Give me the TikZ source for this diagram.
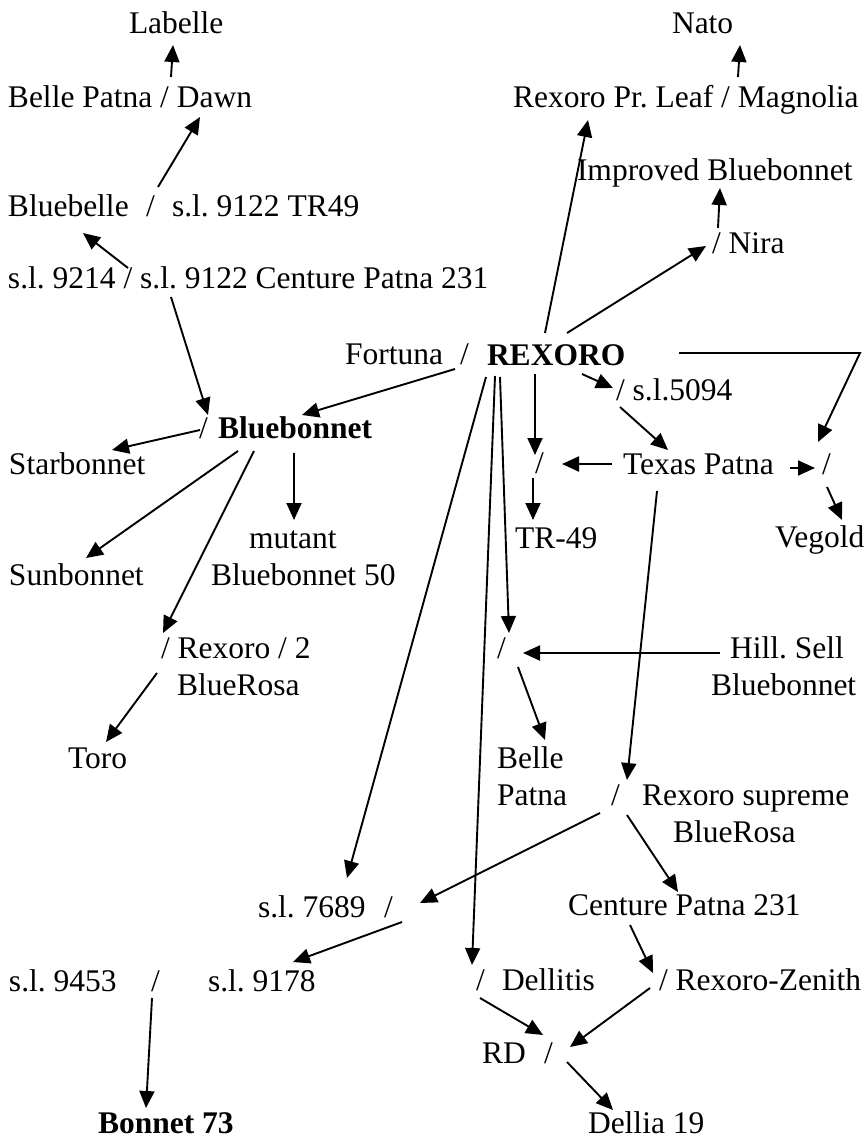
\documentclass[tikz,border=0pt]{standalone}
\usepackage{fontspec}
\setmainfont{Liberation Serif}
\usetikzlibrary{arrows.meta}
\begin{document}
\frenchspacing
\begin{tikzpicture}[x=1pt,y=-1pt,
  lbl/.style={anchor=base west,inner sep=0pt,outer sep=0pt,font=\fontsize{31.5}{38}\selectfont\frenchspacing},
  blbl/.style={lbl,font=\fontsize{31.5}{38}\selectfont\bfseries},
  conn/.style={line width=1.9pt,-{Triangle[length=17pt,width=15pt]}}]
\useasboundingbox (0,0) rectangle (867,1140);
% ---- texts ----
\node[lbl] (labelle) at (129,34) {Labelle};
\node[lbl] (nato) at (672,34) {Nato};
\node[lbl] (bpdawn) at (8,107) {Belle Patna / Dawn};
\node[lbl] (rexleaf) at (513,107) {Rexoro Pr. Leaf / Magnolia};
\node[lbl] (improved) at (577,180) {Improved Bluebonnet};
\node[lbl] (bluebelle) at (8,216) {Bluebelle};
\node[lbl] (bbslash) at (146,216) {/};
\node[lbl] (tr49a) at (172,216) {s.l. 9122 TR49};
\node[lbl] (nira) at (712,253) {/ Nira};
\node[lbl] (sl9214) at (8,288) {s.l. 9214 / s.l. 9122 Centure Patna 231};
\node[lbl] (fortuna) at (345,364) {Fortuna};
\node[lbl] (rxslash) at (460,364) {/};
\node[blbl] (rexoro) at (487,365) {REXORO};
\node[lbl] (sl5094) at (616,400) {/ s.l.5094};
\node[lbl] (bnslash) at (199,438) {/};
\node[blbl] (bluebonnet) at (218,438) {Bluebonnet};
\node[lbl] (starbonnet) at (9,474) {Starbonnet};
\node[lbl] (trslash) at (535,473) {/};
\node[lbl] (texas) at (623,474) {Texas Patna};
\node[lbl] (vgslash) at (822,474) {/};
\node[lbl] (mutant) at (249,548) {mutant};
\node[lbl] (bb50) at (211,585) {Bluebonnet 50};
\node[lbl] (tr49) at (515,548) {TR-49};
\node[lbl] (vegold) at (775,547) {Vegold};
\node[lbl] (sunbonnet) at (9,585) {Sunbonnet};
\node[lbl] (rexoro2) at (161,658) {/ Rexoro / 2};
\node[lbl] (bluerosaa) at (177,695) {BlueRosa};
\node[lbl] (bpslash) at (497,658) {/};
\node[lbl] (hillsell) at (730,658) {Hill. Sell};
\node[lbl] (hillbb) at (711,695) {Bluebonnet};
\node[lbl] (toro) at (68,768) {Toro};
\node[lbl] (belle) at (497,768) {Belle};
\node[lbl] (patna) at (497,805) {Patna};
\node[lbl] (rsslash) at (611,805) {/};
\node[lbl] (rsupreme) at (642,805) {Rexoro supreme};
\node[lbl] (bluerosab) at (673,842) {BlueRosa};
\node[lbl] (centure) at (568,915) {Centure Patna 231};
\node[lbl] (sl7689) at (258,917) {s.l. 7689};
\node[lbl] (slash7689) at (384,917) {/};
\node[lbl] (sl9453) at (9,991) {s.l. 9453};
\node[lbl] (slash9453) at (151,991) {/};
\node[lbl] (sl9178) at (208,991) {s.l. 9178};
\node[lbl] (dlslash) at (476,990) {/};
\node[lbl] (dellitis) at (502,990) {Dellitis};
\node[lbl] (zenith) at (659,990) {/ Rexoro-Zenith};
\node[lbl] (rd) at (482,1063) {RD};
\node[lbl] (rdslash) at (544,1063) {/};
\node[blbl] (bonnet) at (98,1133) {Bonnet 73};
\node[lbl] (dellia) at (588,1133) {Dellia 19};
% ---- connector end points ----
\coordinate (a1s) at (171,77);  \coordinate (a1e) at (173,45);
\coordinate (a2s) at (158,187); \coordinate (a2e) at (200,117);
\coordinate (a3s) at (128,268); \coordinate (a3e) at (83,233);
\coordinate (a4s) at (738,77);  \coordinate (a4e) at (740,45);
\coordinate (a5s) at (545,333); \coordinate (a5e) at (588,120);
\coordinate (a6s) at (567,333); \coordinate (a6e) at (706,246);
\coordinate (a7s) at (718,228); \coordinate (a7e) at (720,188);
\coordinate (a8s) at (171,297); \coordinate (a8e) at (208,415);
\coordinate (a9s) at (455,369); \coordinate (a9e) at (302,415);
\coordinate (a10s) at (200,430); \coordinate (a10e) at (112,450);
\coordinate (a11s) at (238,451); \coordinate (a11e) at (86,558);
\coordinate (a12s) at (294,453); \coordinate (a12e) at (294,520);
\coordinate (a13s) at (254,451); \coordinate (a13e) at (163,633);
\coordinate (a14s) at (157,673); \coordinate (a14e) at (106,742);
\coordinate (a15s) at (486,377); \coordinate (a15e) at (347,878);
\coordinate (a16s) at (495,376); \coordinate (a16e) at (472,965);
\coordinate (a17s) at (500,377); \coordinate (a17e) at (509,633);
\coordinate (a18s) at (535,374); \coordinate (a18e) at (535,455);
\coordinate (a19s) at (533,478); \coordinate (a19e) at (533,520);
\coordinate (a20s) at (612,464); \coordinate (a20e) at (562,464);
\coordinate (a21s) at (582,374); \coordinate (a21e) at (613,388);
\coordinate (a22s) at (620,407); \coordinate (a22e) at (668,450);
\coordinate (a23s) at (679,353); \coordinate (a23m) at (860,353); \coordinate (a23e) at (818,442);
\coordinate (a24s) at (790,468); \coordinate (a24e) at (815,468);
\coordinate (a25s) at (827,487); \coordinate (a25e) at (842,520);
\coordinate (a26s) at (720,653); \coordinate (a26e) at (523,653);
\coordinate (a27s) at (518,667); \coordinate (a27e) at (545,740);
\coordinate (a28s) at (657,491); \coordinate (a28e) at (627,780);
\coordinate (a29s) at (600,813); \coordinate (a29e) at (420,903);
\coordinate (a30s) at (627,815); \coordinate (a30e) at (678,892);
\coordinate (a31s) at (630,925); \coordinate (a31e) at (653,973);
\coordinate (a32s) at (402,922); \coordinate (a32e) at (293,962);
\coordinate (a33s) at (152,998); \coordinate (a33e) at (146,1108);
\coordinate (a34s) at (480,998); \coordinate (a34e) at (543,1035);
\coordinate (a35s) at (650,988); \coordinate (a35e) at (570,1047);
\coordinate (a36s) at (567,1062); \coordinate (a36e) at (613,1110);
% ---- connectors ----
\foreach \i in {1,...,22,24,25,26,27,28,29,30,31,32,33,34,35,36}
  \draw[conn] (a\i s) -- (a\i e);
\draw[conn] (a23s) -- (a23m) -- (a23e);
\end{tikzpicture}
\end{document}
